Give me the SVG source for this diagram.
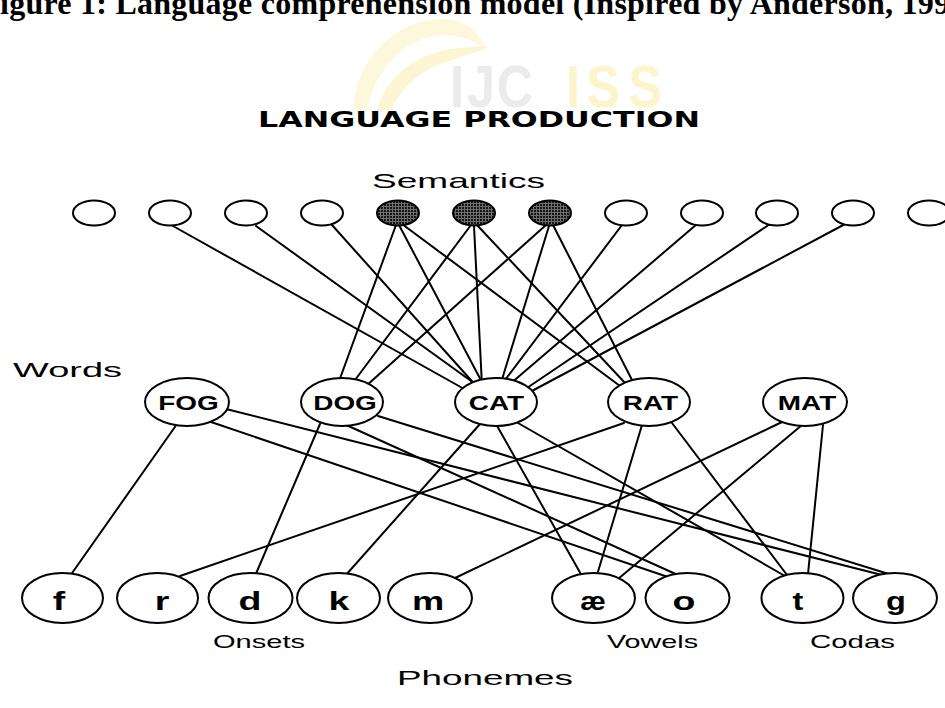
<svg xmlns="http://www.w3.org/2000/svg" width="945" height="708" viewBox="0 0 945 708">
  <defs>
    <!-- dotted fill for the active semantic features -->
    <pattern id="stipple" width="3" height="3" patternUnits="userSpaceOnUse">
      <rect width="3" height="3" fill="#6e6e6e"/>
      <rect width="2" height="2" fill="#151515"/>
    </pattern>
  </defs>
  <style>
    .edge { stroke: #000; stroke-width: 2; fill: none; stroke-linecap: round; }
    .node { fill: #fff; stroke: #000; stroke-width: 2; }
    .feat-on { fill: url(#stipple); stroke: #000; stroke-width: 2; }
    .word { font-family: "Liberation Sans", Arial, sans-serif; font-weight: bold; font-size: 21px; text-anchor: middle; }
    .phon { font-family: "Liberation Sans", Arial, sans-serif; font-weight: bold; font-size: 25px; text-anchor: middle; }
    .cap { font-family: "Liberation Sans", Arial, sans-serif; font-size: 21px; }
    .sub { font-family: "Liberation Sans", Arial, sans-serif; font-size: 19px; }
    .wm { font-family: "Liberation Sans", Arial, sans-serif; font-weight: bold; font-size: 60px; text-anchor: middle; }
  </style>

  <rect width="945" height="708" fill="#fff"/>

  <!-- caption line -->
  <text x="0" y="14" font-family="'Liberation Serif', 'Times New Roman', serif" font-weight="bold" font-size="32" textLength="950" lengthAdjust="spacing">igure 1: Language comprehension model (Inspired by Anderson, 199</text>

  <!-- journal watermark -->
  <g id="watermark">
    <path d="M353,110 C356,62 390,22 440,19 C466,18 481,34 487,50 C472,39 457,34 441,35 C402,39 376,70 367,110 Z" fill="#fcf8dc"/>
    <path d="M377,110 C386,80 410,56 450,49 C470,46 482,46 490,47 C476,53 457,58 441,64 C416,73 401,90 391,110 Z" fill="#fcf6d4"/>
    <text class="wm" fill="#ebebeb" transform="translate(457,107) scale(0.84,1)">I</text>
    <text class="wm" fill="#ebebeb" transform="translate(481,107) scale(0.84,1)">J</text>
    <text class="wm" fill="#ebebeb" transform="translate(515,107) scale(0.84,1)">C</text>
    <text class="wm" fill="#fcf4ca" transform="translate(573,107) scale(0.84,1)">I</text>
    <text class="wm" fill="#fcf4ca" transform="translate(603,107) scale(0.84,1)">S</text>
    <text class="wm" fill="#fcf4ca" transform="translate(645,107) scale(0.84,1)">S</text>
  </g>

  <!-- headings -->
  <text x="258" y="127" font-family="'DejaVu Sans', sans-serif" font-weight="bold" font-size="22" textLength="442" lengthAdjust="spacingAndGlyphs">LANGUAGE PRODUCTION</text>
  <text class="cap" x="372" y="188" textLength="173" lengthAdjust="spacingAndGlyphs">Semantics</text>
  <text class="cap" x="13" y="377" textLength="109" lengthAdjust="spacingAndGlyphs">Words</text>
  <text class="cap" x="397" y="685" textLength="176" lengthAdjust="spacingAndGlyphs">Phonemes</text>
  <text class="sub" x="213" y="648" textLength="92" lengthAdjust="spacingAndGlyphs">Onsets</text>
  <text class="sub" x="607" y="648" textLength="91" lengthAdjust="spacingAndGlyphs">Vowels</text>
  <text class="sub" x="810" y="648" textLength="85" lengthAdjust="spacingAndGlyphs">Codas</text>

  <!-- connections -->
  <g id="connectors" class="edge">
    <!-- semantic features to words -->
    <line x1="173" y1="226" x2="466" y2="390"/>
    <line x1="256" y1="226" x2="478" y2="386"/>
    <line x1="332" y1="225" x2="478" y2="388"/>
    <line x1="396" y1="225" x2="338" y2="384"/>
    <line x1="399" y1="225" x2="484" y2="386"/>
    <line x1="402" y1="224" x2="620" y2="386"/>
    <line x1="471" y1="225" x2="352" y2="384"/>
    <line x1="474" y1="226" x2="482" y2="386"/>
    <line x1="477" y1="225" x2="626" y2="384"/>
    <line x1="546" y1="225" x2="366" y2="386"/>
    <line x1="549" y1="226" x2="500" y2="386"/>
    <line x1="553" y1="225" x2="633" y2="382"/>
    <line x1="622" y1="225" x2="502" y2="384"/>
    <line x1="697" y1="224" x2="510" y2="384"/>
    <line x1="770" y1="224" x2="524" y2="390"/>
    <line x1="847" y1="223" x2="530" y2="392"/>
    <!-- words to phonemes -->
    <line x1="177" y1="424" x2="70" y2="576"/>
    <line x1="211" y1="422" x2="668" y2="577"/>
    <line x1="226" y1="409" x2="882" y2="575"/>
    <line x1="320" y1="424" x2="255" y2="576"/>
    <line x1="344" y1="424" x2="680" y2="576"/>
    <line x1="378" y1="416" x2="892" y2="575"/>
    <line x1="480" y1="424" x2="345" y2="576"/>
    <line x1="496" y1="424" x2="582" y2="576"/>
    <line x1="518" y1="423" x2="785" y2="576"/>
    <line x1="624" y1="423" x2="180" y2="576"/>
    <line x1="642" y1="425" x2="597" y2="575"/>
    <line x1="672" y1="423" x2="787" y2="575"/>
    <line x1="782" y1="422" x2="455" y2="578"/>
    <line x1="802" y1="425" x2="618" y2="579"/>
    <line x1="823" y1="425" x2="808" y2="574"/>
  </g>

  <!-- semantic feature units -->
  <g id="sem1"><ellipse class="node" cx="94" cy="213" rx="21" ry="12.5"/></g>
  <g id="sem2"><ellipse class="node" cx="170" cy="213" rx="21" ry="12.5"/></g>
  <g id="sem3"><ellipse class="node" cx="246" cy="213" rx="21" ry="12.5"/></g>
  <g id="sem4"><ellipse class="node" cx="322" cy="213" rx="21" ry="12.5"/></g>
  <g id="sem5"><ellipse class="feat-on" cx="398" cy="213" rx="21" ry="12.5"/></g>
  <g id="sem6"><ellipse class="feat-on" cx="474" cy="213" rx="21" ry="12.5"/></g>
  <g id="sem7"><ellipse class="feat-on" cx="550" cy="213" rx="21" ry="12.5"/></g>
  <g id="sem8"><ellipse class="node" cx="626" cy="213" rx="21" ry="12.5"/></g>
  <g id="sem9"><ellipse class="node" cx="702" cy="213" rx="21" ry="12.5"/></g>
  <g id="sem10"><ellipse class="node" cx="777" cy="213" rx="21" ry="12.5"/></g>
  <g id="sem11"><ellipse class="node" cx="853" cy="213" rx="21" ry="12.5"/></g>
  <g id="sem12"><ellipse class="node" cx="929" cy="213" rx="21" ry="12.5"/></g>

  <!-- word units -->
  <g id="fog"><ellipse class="node" cx="187" cy="402" rx="42" ry="24"/><text class="word" transform="translate(188.5,410) scale(1.33,1)">FOG</text></g>
  <g id="dog"><ellipse class="node" cx="342" cy="402" rx="41" ry="24"/><text class="word" transform="translate(345,410) scale(1.33,1)">DOG</text></g>
  <g id="cat"><ellipse class="node" cx="496" cy="402" rx="41" ry="24"/><text class="word" transform="translate(496.5,410) scale(1.33,1)">CAT</text></g>
  <g id="rat"><ellipse class="node" cx="649" cy="402" rx="41" ry="24"/><text class="word" transform="translate(650.5,410) scale(1.33,1)">RAT</text></g>
  <g id="mat"><ellipse class="node" cx="805" cy="402" rx="42" ry="24"/><text class="word" transform="translate(807,410) scale(1.33,1)">MAT</text></g>

  <!-- phoneme units -->
  <g id="ph-f"><ellipse class="node" cx="62.5" cy="598" rx="40.5" ry="25"/><text class="phon" transform="translate(59,610) scale(1.5,1)">f</text></g>
  <g id="ph-r"><ellipse class="node" cx="157.5" cy="598" rx="40.5" ry="25"/><text class="phon" transform="translate(162,610) scale(1.5,1)">r</text></g>
  <g id="ph-d"><ellipse class="node" cx="250.5" cy="598" rx="42" ry="25"/><text class="phon" transform="translate(250,610) scale(1.5,1)">d</text></g>
  <g id="ph-k"><ellipse class="node" cx="338.5" cy="598" rx="41.5" ry="25"/><text class="phon" transform="translate(339,610) scale(1.5,1)">k</text></g>
  <g id="ph-m"><ellipse class="node" cx="430" cy="598" rx="42" ry="25"/><text class="phon" transform="translate(428,610) scale(1.45,1)">m</text></g>
  <g id="ph-ae"><ellipse class="node" cx="593.5" cy="598" rx="41.5" ry="25"/><text class="phon" transform="translate(593,610) scale(1.15,1)">æ</text></g>
  <g id="ph-o"><ellipse class="node" cx="687.5" cy="598" rx="42" ry="25"/><text class="phon" transform="translate(684,610) scale(1.5,1)">o</text></g>
  <g id="ph-t"><ellipse class="node" cx="802.5" cy="598" rx="41" ry="25"/><text class="phon" transform="translate(798,610) scale(1.3,1)">t</text></g>
  <g id="ph-g"><ellipse class="node" cx="895" cy="598" rx="42" ry="25"/><text class="phon" transform="translate(896,610) scale(1.3,1)">g</text></g>
</svg>
